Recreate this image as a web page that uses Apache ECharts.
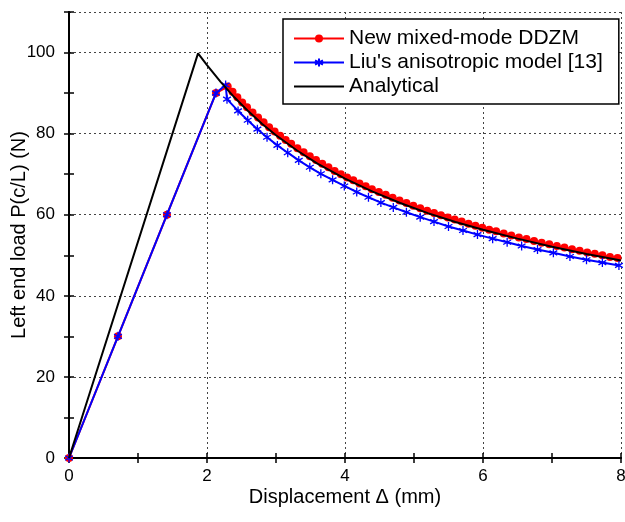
<!DOCTYPE html>
<html>
<head>
<meta charset="utf-8">
<script src="https://cdn.jsdelivr.net/npm/echarts@6/dist/echarts.min.js"></script>
<style>
html,body{margin:0;padding:0;background:#fff;}
#chart{width:625px;height:522px;}
</style>
</head>
<body>
<div id="chart"></div>
<script>
// ---- data ----
const ddzmX = [0, 0.71, 1.42, 2.13, 2.30, 2.37, 2.44, 2.51, 2.58, 2.66, 2.74, 2.82, 2.90, 2.98, 3.06, 3.14, 3.22, 3.31, 3.40, 3.49, 3.58, 3.67, 3.76, 3.85, 3.94, 4.03, 4.12, 4.21, 4.30, 4.39, 4.49, 4.59, 4.69, 4.79, 4.89, 4.99, 5.09, 5.19, 5.29, 5.39, 5.49, 5.59, 5.69, 5.79, 5.89, 5.99, 6.09, 6.19, 6.30, 6.41, 6.52, 6.63, 6.74, 6.85, 6.96, 7.07, 7.18, 7.29, 7.40, 7.51, 7.62, 7.73, 7.84, 7.95];
const ddzmY = [0, 30.0, 60.0, 90.0, 91.6, 90.3, 89.0, 87.7, 86.5, 85.2, 84.0, 82.8, 81.6, 80.5, 79.5, 78.4, 77.5, 76.4, 75.4, 74.4, 73.5, 72.6, 71.7, 70.8, 70.0, 69.2, 68.5, 67.7, 67.0, 66.3, 65.6, 64.9, 64.2, 63.5, 62.9, 62.2, 61.6, 61.0, 60.4, 59.9, 59.3, 58.8, 58.3, 57.8, 57.3, 56.8, 56.3, 55.9, 55.4, 54.9, 54.4, 54.0, 53.5, 53.1, 52.7, 52.3, 51.9, 51.5, 51.1, 50.7, 50.4, 50.0, 49.6, 49.3];

const liuX = [0, 0.71, 1.42, 2.13, 2.27, 2.29, 2.45, 2.59, 2.73, 2.87, 3.02, 3.17, 3.33, 3.49, 3.65, 3.82, 3.99, 4.17, 4.34, 4.52, 4.70, 4.89, 5.09, 5.29, 5.50, 5.71, 5.92, 6.14, 6.35, 6.56, 6.79, 7.02, 7.26, 7.50, 7.73, 7.97];
const liuY = [0, 30.0, 60.0, 90.0, 92.0, 88.5, 85.6, 83.3, 81.1, 79.1, 77.1, 75.3, 73.4, 71.7, 70.1, 68.6, 67.1, 65.6, 64.3, 63.0, 61.8, 60.6, 59.4, 58.3, 57.1, 56.1, 55.1, 54.1, 53.2, 52.3, 51.4, 50.6, 49.7, 48.9, 48.2, 47.5];

const anaX = [0, 1.87, 2.0, 2.2, 2.4, 2.6, 2.8, 3.0, 3.3, 3.6, 4.0, 4.4, 4.8, 5.2, 5.6, 6.0, 6.5, 7.0, 7.5, 8.0];
const anaY = [0, 99.8, 96.9, 92.7, 88.9, 85.5, 82.4, 79.6, 75.9, 72.6, 68.9, 65.7, 62.9, 60.4, 58.2, 56.3, 54.1, 52.1, 50.3, 48.7];

const seriesNames = ['New mixed-mode DDZM', "Liu's anisotropic model [13]", 'Analytical'];
const xTitle = 'Displacement \u0394 (mm)';
const yTitle = 'Left end load P(c/L) (N)';
const xTicks = [0, 2, 4, 6, 8];
const yTicks = [0, 20, 40, 60, 80, 100];

// ---- chart ----
const pairs = (xs, ys) => xs.map((x, i) => [x, ys[i]]);
const FONT = "'Liberation Sans', Arial, sans-serif";
const starPath = 'path://M5,0L5,10M0.67,2.5L9.33,7.5M0.67,7.5L9.33,2.5';

const chart = echarts.init(document.getElementById('chart'), null, {renderer: 'canvas'});

const frameLine = {show: true, lineStyle: {color: '#000', width: 2}};
const tickIn = {show: true, inside: true, length: 5, lineStyle: {color: '#000', width: 1.5}};

chart.setOption({
  animation: false,
  backgroundColor: '#fff',
  grid: {left: 69, right: 4, top: 12, bottom: 64, containLabel: false, outerBoundsMode: 'none'},
  legend: {
    orient: 'vertical',
    left: 283, top: 19,
    padding: [9, 16, 7, 10],
    itemGap: 3,
    itemWidth: 50,
    itemHeight: 10,
    backgroundColor: '#fff',
    borderColor: '#000',
    borderWidth: 1.5,
    borderRadius: 0,
    textStyle: {fontFamily: FONT, fontSize: 21, color: '#000', padding: [0, 0, 0, 0]},
    data: [
      {name: seriesNames[0]},
      {name: seriesNames[1]},
      {name: seriesNames[2], itemStyle: {color: 'transparent', borderWidth: 0}}
    ]
  },
  xAxis: [
    {
      type: 'value', position: 'bottom', min: 0, max: 8, interval: 2,
      axisLine: frameLine,
      axisTick: tickIn,
      minorTick: {show: true, splitNumber: 2, length: 5, lineStyle: {color: '#000', width: 1.5}},
      axisLabel: {fontFamily: FONT, fontSize: 17, color: '#000', margin: 10,
        formatter: v => xTicks.includes(v) ? String(v) : ''},
      splitLine: {show: true, lineStyle: {color: '#444', width: 1, type: [2, 3]}},
      name: xTitle, nameLocation: 'middle', nameGap: 29, nameMoveOverlap: false,
      nameTextStyle: {fontFamily: FONT, fontSize: 20, color: '#000'}
    },
    {
      type: 'value', position: 'top', min: 0, max: 8, interval: 2,
      axisLine: frameLine,
      axisTick: tickIn,
      minorTick: {show: true, splitNumber: 2, length: 5, lineStyle: {color: '#000', width: 1.5}},
      axisLabel: {show: false},
      splitLine: {show: false}
    }
  ],
  yAxis: [
    {
      type: 'value', position: 'left', min: 0, max: 110, interval: 10,
      axisLine: frameLine,
      axisTick: tickIn,
      axisLabel: {fontFamily: FONT, fontSize: 17, color: '#000', margin: 14,
        formatter: v => yTicks.includes(v) ? String(v) : ''},
      splitLine: {show: false},
      name: yTitle, nameLocation: 'middle', nameGap: 40, nameMoveOverlap: false,
      nameTextStyle: {fontFamily: FONT, fontSize: 20, color: '#000'}
    },
    {
      type: 'value', position: 'right', min: 0, max: 110, interval: 10,
      axisLine: frameLine,
      axisTick: tickIn,
      axisLabel: {show: false},
      splitLine: {show: false}
    },
    {
      type: 'value', position: 'left', min: 0, max: 110, interval: 20,
      axisLine: {show: false}, axisTick: {show: false}, axisLabel: {show: false},
      splitLine: {show: true, lineStyle: {color: '#444', width: 1, type: [2, 3]}}
    }
  ],
  series: [
    {
      name: seriesNames[0], type: 'line', xAxisIndex: 0, yAxisIndex: 0,
      data: pairs(ddzmX, ddzmY),
      symbol: 'circle', symbolSize: 8, showAllSymbol: true,
      lineStyle: {color: '#ff0000', width: 2},
      itemStyle: {color: '#ff0000'},
      z: 3
    },
    {
      name: seriesNames[1], type: 'line', xAxisIndex: 0, yAxisIndex: 0,
      data: pairs(liuX, liuY),
      symbol: starPath, symbolSize: 9, symbolKeepAspect: true, showAllSymbol: true,
      lineStyle: {color: '#0000ff', width: 2},
      itemStyle: {color: '#0000ff', borderColor: '#0000ff', borderWidth: 1.3},
      z: 4
    },
    {
      name: seriesNames[2], type: 'line', xAxisIndex: 0, yAxisIndex: 0,
      data: pairs(anaX, anaY),
      symbol: 'none', showSymbol: false,
      lineStyle: {color: '#000', width: 2},
      itemStyle: {color: '#000'},
      z: 5
    }
  ]
});
</script>
</body>
</html>
